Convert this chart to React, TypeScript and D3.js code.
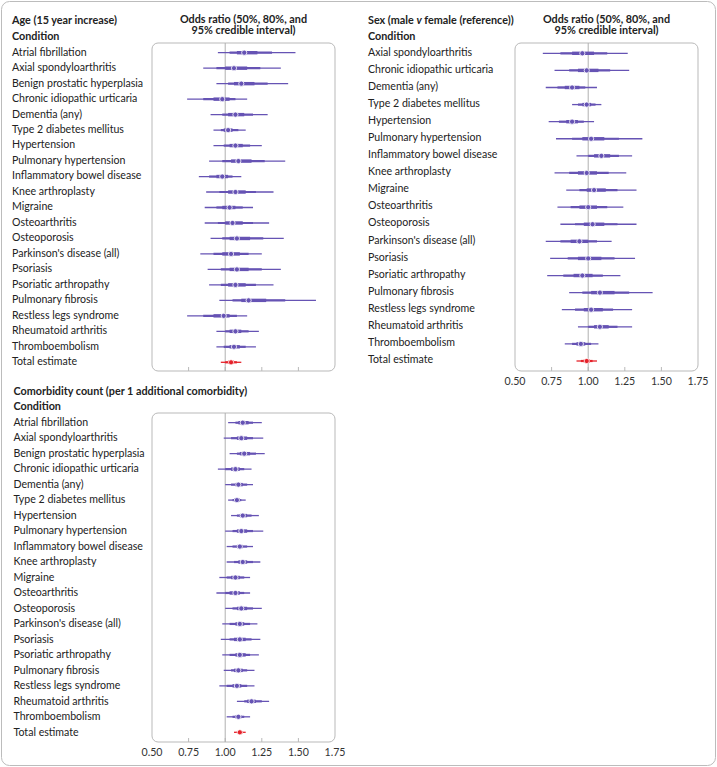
import React from "react";
import * as d3 from "d3";

// ---------- Data ----------
const ageConditions = [
  "Atrial fibrillation", "Axial spondyloarthritis", "Benign prostatic hyperplasia",
  "Chronic idiopathic urticaria", "Dementia (any)", "Type 2 diabetes mellitus", "Hypertension",
  "Pulmonary hypertension", "Inflammatory bowel disease", "Knee arthroplasty", "Migraine",
  "Osteoarthritis", "Osteoporosis", "Parkinson's disease (all)", "Psoriasis",
  "Psoriatic arthropathy", "Pulmonary fibrosis", "Restless legs syndrome",
  "Rheumatoid arthritis", "Thromboembolism", "Total estimate",
];
const ageMedian = [1.13, 1.06, 1.11, 0.98, 1.07, 1.02, 1.07, 1.09, 0.98, 1.07, 1.03, 1.05, 1.08, 1.04, 1.08, 1.07, 1.16, 0.99, 1.07, 1.06, 1.04];
const ageLo95 = [0.95, 0.85, 0.94, 0.74, 0.90, 0.92, 0.92, 0.89, 0.82, 0.87, 0.86, 0.86, 0.90, 0.83, 0.88, 0.89, 0.96, 0.74, 0.94, 0.94, 0.97];
const ageHi95 = [1.48, 1.38, 1.43, 1.15, 1.29, 1.14, 1.25, 1.41, 1.11, 1.33, 1.19, 1.30, 1.40, 1.25, 1.38, 1.33, 1.62, 1.15, 1.23, 1.21, 1.11];
const ageLo80 = [1.03, 0.94, 1.02, 0.85, 0.98, 0.97, 0.99, 0.98, 0.89, 0.96, 0.94, 0.95, 0.98, 0.92, 0.97, 0.97, 1.05, 0.85, 1.00, 0.99, 1.00];
const ageHi80 = [1.32, 1.24, 1.29, 1.07, 1.19, 1.09, 1.17, 1.27, 1.05, 1.21, 1.12, 1.19, 1.26, 1.16, 1.25, 1.21, 1.41, 1.08, 1.16, 1.14, 1.08];
const ageLo50 = [1.08, 1.00, 1.06, 0.92, 1.02, 0.99, 1.03, 1.04, 0.94, 1.02, 0.98, 1.00, 1.03, 0.98, 1.03, 1.02, 1.11, 0.92, 1.03, 1.03, 1.02];
const ageHi50 = [1.22, 1.15, 1.20, 1.03, 1.13, 1.05, 1.12, 1.18, 1.02, 1.14, 1.07, 1.12, 1.17, 1.10, 1.16, 1.14, 1.28, 1.03, 1.11, 1.10, 1.06];

const sexConditions = [
  "Axial spondyloarthritis", "Chronic idiopathic urticaria", "Dementia (any)",
  "Type 2 diabetes mellitus", "Hypertension", "Pulmonary hypertension",
  "Inflammatory bowel disease", "Knee arthroplasty", "Migraine", "Osteoarthritis",
  "Osteoporosis", "Parkinson's disease (all)", "Psoriasis", "Psoriatic arthropathy",
  "Pulmonary fibrosis", "Restless legs syndrome", "Rheumatoid arthritis",
  "Thromboembolism", "Total estimate",
];
const sexMedian = [0.96, 0.99, 0.89, 0.99, 0.89, 1.02, 1.09, 0.99, 1.04, 1.00, 1.03, 0.94, 1.00, 0.96, 1.08, 1.02, 1.08, 0.95, 0.99];
const sexLo95 = [0.69, 0.77, 0.71, 0.89, 0.73, 0.78, 0.92, 0.77, 0.85, 0.79, 0.81, 0.71, 0.74, 0.72, 0.87, 0.82, 0.93, 0.84, 0.92];
const sexHi95 = [1.27, 1.28, 1.06, 1.09, 1.04, 1.37, 1.30, 1.26, 1.33, 1.24, 1.33, 1.16, 1.32, 1.22, 1.44, 1.30, 1.30, 1.07, 1.06];
const sexLo80 = [0.81, 0.87, 0.79, 0.93, 0.80, 0.89, 1.00, 0.87, 0.94, 0.88, 0.91, 0.81, 0.86, 0.83, 0.96, 0.91, 1.00, 0.89, 0.95];
const sexHi80 = [1.13, 1.15, 0.98, 1.05, 0.97, 1.21, 1.21, 1.14, 1.20, 1.13, 1.20, 1.06, 1.18, 1.10, 1.28, 1.17, 1.20, 1.02, 1.03];
const sexLo50 = [0.89, 0.93, 0.84, 0.96, 0.85, 0.96, 1.04, 0.93, 0.99, 0.94, 0.97, 0.88, 0.93, 0.90, 1.02, 0.97, 1.04, 0.92, 0.97];
const sexHi50 = [1.04, 1.07, 0.94, 1.02, 0.93, 1.11, 1.15, 1.06, 1.12, 1.06, 1.11, 1.00, 1.09, 1.03, 1.18, 1.10, 1.14, 0.98, 1.01];

const comConditions = ageConditions;
const comMedian = [1.12, 1.11, 1.13, 1.07, 1.09, 1.08, 1.12, 1.11, 1.10, 1.12, 1.07, 1.07, 1.11, 1.10, 1.10, 1.10, 1.09, 1.08, 1.18, 1.09, 1.10];
const comLo95 = [1.02, 0.99, 1.03, 0.95, 1.00, 1.02, 1.04, 1.00, 1.01, 1.01, 0.96, 0.94, 1.00, 0.98, 0.97, 0.98, 0.99, 0.96, 1.08, 1.01, 1.06];
const comHi95 = [1.25, 1.26, 1.27, 1.18, 1.19, 1.14, 1.23, 1.26, 1.19, 1.24, 1.17, 1.17, 1.25, 1.22, 1.24, 1.23, 1.20, 1.20, 1.30, 1.17, 1.14];
const comLo80 = [1.07, 1.04, 1.08, 1.00, 1.04, 1.05, 1.08, 1.05, 1.05, 1.06, 1.01, 1.00, 1.05, 1.03, 1.03, 1.03, 1.04, 1.01, 1.13, 1.05, 1.08];
const comHi80 = [1.19, 1.19, 1.21, 1.13, 1.15, 1.11, 1.18, 1.19, 1.15, 1.19, 1.13, 1.13, 1.19, 1.17, 1.18, 1.17, 1.15, 1.15, 1.25, 1.13, 1.12];
const comLo50 = [1.09, 1.08, 1.10, 1.04, 1.07, 1.06, 1.10, 1.08, 1.08, 1.09, 1.04, 1.03, 1.08, 1.07, 1.06, 1.07, 1.06, 1.05, 1.15, 1.07, 1.09];
const comHi50 = [1.16, 1.15, 1.17, 1.10, 1.12, 1.10, 1.15, 1.15, 1.12, 1.15, 1.10, 1.10, 1.15, 1.13, 1.14, 1.14, 1.12, 1.11, 1.21, 1.11, 1.11];

const xTicks = [0.5, 0.75, 1.0, 1.25, 1.5, 1.75];
const xDomain = [0.5, 1.75];

// ---------- Styles ----------
const FONT = "Lato, 'Open Sans', sans-serif";
const PURPLE = "#6653b4";
const RED = "#e5222b";
const BOX = "#b9b9b9";
const TEXT = "#222";
const LABEL_SIZE = 10.6;
const BOLD_SIZE = 10.8;

type PanelProps = {
  x0: number; x1: number; y0: number; y1: number;
  rowTop: number; rowBottom: number; labelX: number; labelDy: number;
  labels: string[]; med: number[]; lo95: number[]; hi95: number[];
  lo80: number[]; hi80: number[]; lo50: number[]; hi50: number[];
  tickLabelY?: number;
  title: React.ReactNode; titleY: number; condY: number; oddsY?: number;
};

function Panel(p: PanelProps) {
  const x = d3.scaleLinear().domain(xDomain).range([p.x0, p.x1]);
  const y = d3.scalePoint<string>().domain(p.labels).range([p.rowTop, p.rowBottom]);
  const fmt = d3.format(".2f");
  const cx = (p.x0 + p.x1) / 2;
  return (
    <g>
      <text x={p.labelX} y={p.titleY} dy="0.35em" fontSize={BOLD_SIZE} fontWeight={700} fill={TEXT}>{p.title}</text>
      <text x={p.labelX} y={p.condY} dy="0.35em" fontSize={BOLD_SIZE} fontWeight={700} fill={TEXT}>Condition</text>
      {p.oddsY !== undefined && (
        <text x={cx} textAnchor="middle" fontSize={BOLD_SIZE} fontWeight={700} fill={TEXT}>
          <tspan x={cx} y={p.oddsY} dy="0.35em">Odds ratio (50%, 80%, and</tspan>
          <tspan x={cx} y={p.oddsY + 11.5} dy="0.35em">95% credible interval)</tspan>
        </text>
      )}
      <rect x={p.x0} y={p.y0} width={p.x1 - p.x0} height={p.y1 - p.y0} rx={6} fill="white" stroke={BOX} strokeWidth={1} />
      {xTicks.slice(1, -1).map((t) => (
        <line key={t} x1={x(t)} x2={x(t)} y1={p.y1} y2={p.y1 - 4} stroke={BOX} strokeWidth={1} />
      ))}
      <line x1={x(1)} x2={x(1)} y1={p.y0} y2={p.y1} stroke="#b0b0b0" strokeWidth={1} />
      {p.tickLabelY !== undefined && xTicks.map((t) => (
        <text key={t} x={x(t)} y={p.tickLabelY} dy="0.35em" textAnchor="middle" fontSize={LABEL_SIZE} fill="#333">{fmt(t)}</text>
      ))}
      {p.labels.map((lab, i) => {
        const yy = y(lab) as number;
        const col = lab === "Total estimate" ? RED : PURPLE;
        return (
          <g key={lab}>
            <text x={p.labelX} y={yy + p.labelDy} dy="0.35em" fontSize={LABEL_SIZE} fill={TEXT}>{lab}</text>
            <line x1={x(p.lo95[i])} x2={x(p.hi95[i])} y1={yy} y2={yy} stroke={col} strokeWidth={1.3} />
            <line x1={x(p.lo80[i])} x2={x(p.hi80[i])} y1={yy} y2={yy} stroke={col} strokeWidth={2.2} />
            <line x1={x(p.lo50[i])} x2={x(p.hi50[i])} y1={yy} y2={yy} stroke={col} strokeWidth={3.4} />
            <circle cx={x(p.med[i])} cy={yy} r={2.6} fill={col} stroke="white" strokeWidth={0.8} />
          </g>
        );
      })}
    </g>
  );
}

export default function App() {
  return (
    <div style={{ position: "absolute", left: 0, top: 0 }}>
      <svg width={717} height={767} style={{ display: "block", fontFamily: FONT }}>
        <rect x={1.5} y={1.5} width={714} height={764} rx={8} fill="white" stroke="#bcbcbc" strokeWidth={1} />
        <Panel
          x0={152} x1={335} y0={43} y1={371} rowTop={52.7} rowBottom={362.3} labelX={12} labelDy={-0.8}
          labels={ageConditions} med={ageMedian} lo95={ageLo95} hi95={ageHi95}
          lo80={ageLo80} hi80={ageHi80} lo50={ageLo50} hi50={ageHi50}
          title="Age (15 year increase)" titleY={20.5} condY={36} oddsY={19}
        />
        <Panel
          x0={515} x1={698} y0={43} y1={371} rowTop={53.3} rowBottom={361} labelX={368} labelDy={-1.5}
          labels={sexConditions} med={sexMedian} lo95={sexLo95} hi95={sexHi95}
          lo80={sexLo80} hi80={sexHi80} lo50={sexLo50} hi50={sexHi50}
          tickLabelY={381.5}
          title={<>Sex (male <tspan fontStyle="italic">v</tspan> female (reference))</>} titleY={20} condY={36.7} oddsY={19}
        />
        <Panel
          x0={152} x1={335} y0={413} y1={742} rowTop={422.7} rowBottom={732.3} labelX={13.5} labelDy={-0.5}
          labels={comConditions} med={comMedian} lo95={comLo95} hi95={comHi95}
          lo80={comLo80} hi80={comHi80} lo50={comLo50} hi50={comHi50}
          tickLabelY={752}
          title="Comorbidity count (per 1 additional comorbidity)" titleY={391.5} condY={406.5}
        />
      </svg>
    </div>
  );
}
